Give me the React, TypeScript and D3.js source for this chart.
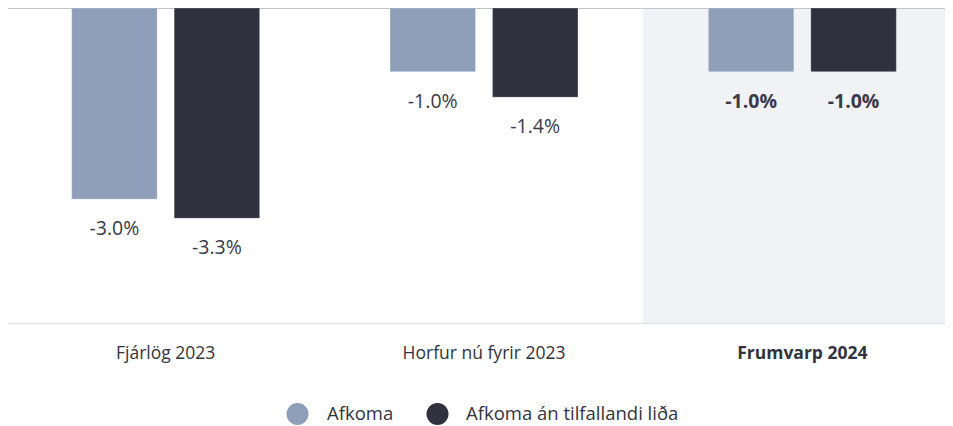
import React from "react";
import * as d3 from "d3";

const categories = ["Fjárlög 2023", "Horfur nú fyrir 2023", "Frumvarp 2024"];
const seriesNames = ["Afkoma", "Afkoma án tilfallandi liða"];
const afkoma = [-3.0, -1.0, -1.0];
const afkomaAnTilfallandi = [-3.3, -1.4, -1.0];
const highlighted = "Frumvarp 2024";

const colors = ["#8f9fba", "#30303f"];
const W = 945;
const H = 418;
const FONT = "'Open Sans', 'Noto Sans', sans-serif";

export default function App() {
  const plotBottom = 315.5;
  const x0 = d3.scaleBand<string>().domain(categories).range([-1.5, 953.5]).padding(0);
  const step = x0.bandwidth();
  const x1 = d3
    .scaleBand<string>()
    .domain(seriesNames)
    .range([65.2, step - 65.2])
    .paddingInner(0.166)
    .paddingOuter(0);
  const y = d3.scaleLinear().domain([0, -5]).range([0, 318.5]);
  const data = [afkoma, afkomaAnTilfallandi];
  const fmt = (v: number) => d3.format(".1f")(v).replace("\u2212", "-") + "%";

  const legendItems = [
    { cx: 297.5 - 8, tx: 319 },
    { cx: 437.5 - 8, tx: 458 },
  ];

  return (
    <svg width={W} height={H} style={{ display: "block", overflow: "hidden" }} fontFamily={FONT}>
      {categories.map((c) =>
        c === highlighted ? (
          <rect key={"bg" + c} x={x0(c)} y={0} width={step} height={plotBottom} fill="#f1f2f6" />
        ) : null
      )}
      <line x1={0} x2={W} y1={0.5} y2={0.5} stroke="#c4c4c8" strokeWidth={1} />
      <line x1={0} x2={W} y1={plotBottom} y2={plotBottom} stroke="#e2e2e8" strokeWidth={1.5} />
      {categories.map((c, ci) => {
        const bold = c === highlighted;
        return (
          <g key={c} transform={`translate(${x0(c)},0)`}>
            {seriesNames.map((s, si) => {
              const v = data[si][ci];
              const bx = x1(s)!;
              const bw = x1.bandwidth();
              return (
                <g key={s}>
                  <rect
                    x={bx}
                    y={y(0)}
                    width={bw}
                    height={y(v) - y(0)}
                    fill={colors[si]}
                    stroke="#ffffff"
                    strokeOpacity={0.25}
                    strokeWidth={1}
                  />
                  <text
                    x={bx + bw / 2}
                    y={y(v) + 36}
                    textAnchor="middle"
                    fontSize={19.5}
                    fontWeight={bold ? 700 : 400}
                    fill="#3a3a48"
                  >
                    {fmt(v)}
                  </text>
                </g>
              );
            })}
            <text
              x={step / 2}
              y={351}
              textAnchor="middle"
              fontSize={17.5}
              fontWeight={bold ? 700 : 400}
              fill="#333340"
            >
              {c}
            </text>
          </g>
        );
      })}
      {seriesNames.map((s, i) => (
        <g key={"lg" + s}>
          <circle cx={legendItems[i].cx} cy={406} r={11} fill={colors[i]} />
          <text x={legendItems[i].tx} y={412} fontSize={18.5} fill="#333340">
            {s}
          </text>
        </g>
      ))}
    </svg>
  );
}
